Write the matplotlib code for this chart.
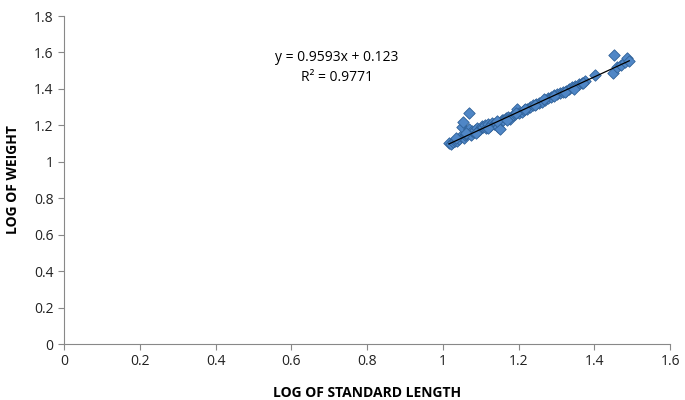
import matplotlib
matplotlib.use("Agg")
import matplotlib.pyplot as plt

log_sl = [1.016, 1.022, 1.028, 1.033, 1.038, 1.042, 1.047, 1.050, 1.052, 1.055, 1.058, 1.062,
          1.065, 1.068, 1.070, 1.074, 1.078, 1.082, 1.086, 1.090, 1.094, 1.098, 1.102, 1.106,
          1.110, 1.115, 1.120, 1.125, 1.130, 1.135, 1.140, 1.145, 1.150, 1.155, 1.160, 1.166,
          1.172, 1.178, 1.184, 1.190, 1.196, 1.202, 1.208, 1.215, 1.222, 1.230, 1.238, 1.246,
          1.254, 1.262, 1.270, 1.278, 1.286, 1.294, 1.302, 1.310, 1.318, 1.326, 1.334, 1.342,
          1.350, 1.358, 1.366, 1.374, 1.402, 1.449, 1.452, 1.460, 1.470, 1.480, 1.486, 1.492,
          1.035, 1.060, 1.088, 1.118, 1.142, 1.168, 1.192, 1.218, 1.242, 1.268, 1.292, 1.322,
          1.346, 1.370]
log_w = [1.103, 1.100, 1.108, 1.115, 1.112, 1.125, 1.140, 1.190, 1.218, 1.130, 1.145, 1.150,
         1.160, 1.268, 1.180, 1.145, 1.170, 1.162, 1.175, 1.185, 1.168, 1.180, 1.195, 1.190,
         1.200, 1.185, 1.210, 1.198, 1.215, 1.205, 1.212, 1.190, 1.180, 1.232, 1.228, 1.240,
         1.245, 1.235, 1.255, 1.262, 1.290, 1.270, 1.275, 1.285, 1.290, 1.300, 1.310, 1.315,
         1.325, 1.330, 1.340, 1.350, 1.355, 1.365, 1.370, 1.380, 1.385, 1.390, 1.398, 1.410,
         1.415, 1.425, 1.430, 1.445, 1.476, 1.487, 1.586, 1.520, 1.530, 1.545, 1.570, 1.555,
         1.128, 1.158, 1.160, 1.188, 1.225, 1.230, 1.270, 1.288, 1.312, 1.342, 1.362, 1.385,
         1.402, 1.432]

slope = 0.9593
intercept = 0.123
x_ticks = [0, 0.2, 0.4, 0.6, 0.8, 1, 1.2, 1.4, 1.6]
y_ticks = [0, 0.2, 0.4, 0.6, 0.8, 1, 1.2, 1.4, 1.6, 1.8]

plt.rcParams['font.family'] = ['Open Sans', 'DejaVu Sans']

fig = plt.figure(figsize=(6.85, 4.0), dpi=100)
ax = fig.add_axes([0.0934, 0.14, 0.885, 0.82])

ax.scatter(log_sl, log_w, marker='D', s=34, color='#4F86C6', edgecolors='#2F6198',
           linewidths=0.6, zorder=2)
xs = [min(log_sl), max(log_sl)]
ax.plot(xs, [slope * v + intercept for v in xs], color='black', lw=0.9, zorder=3)

ax.set_xlim(0, 1.6)
ax.set_ylim(0, 1.8)
ax.set_xticks(x_ticks)
ax.set_yticks(y_ticks)
ax.set_xticklabels([f"{t:g}" for t in x_ticks], fontsize=10)
ax.set_yticklabels([f"{t:g}" for t in y_ticks], fontsize=10)
for s in ['top', 'right']:
    ax.spines[s].set_visible(False)
for s in ['left', 'bottom']:
    ax.spines[s].set_color('#888888')
ax.tick_params(axis='both', direction='out', length=4, color='#888888', colors='#222222')

ax.set_xlabel('LOG OF STANDARD LENGTH', fontsize=10, fontweight='bold', labelpad=12)
ax.set_ylabel('LOG OF WEIGHT', fontsize=10, fontweight='bold', labelpad=10)

ax.text(0.72, 1.57, 'y = 0.9593x + 0.123', ha='center', va='center', fontsize=10)
ax.text(0.72, 1.465, 'R² = 0.9771', ha='center', va='center', fontsize=10)

fig.savefig('out.png', dpi=100)
